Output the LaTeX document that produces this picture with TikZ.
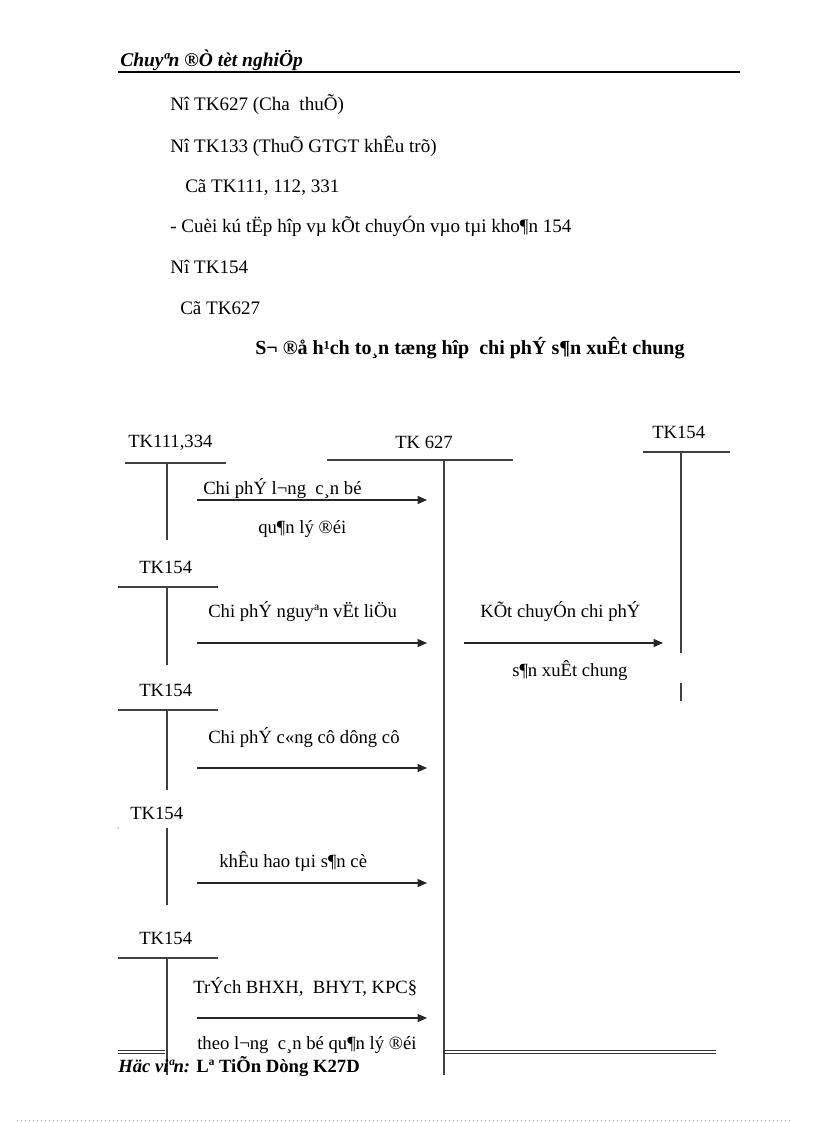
\documentclass[tikz,border=0pt]{standalone}
\usepackage{fontspec}
\setmainfont{Liberation Serif}
\usetikzlibrary{arrows.meta}
\begin{document}
\begin{tikzpicture}[x=0.75pt,y=-0.75pt,
  txt/.style={anchor=base west,inner sep=0pt,font=\fontsize{14}{16}\selectfont},
  body/.style={anchor=base west,inner sep=0pt,font=\fontsize{14.3}{16}\selectfont},
  ttl/.style={anchor=base west,inner sep=0pt,font=\fontsize{14}{16}\selectfont\bfseries},
  tline/.style={line width=1.1pt,draw=black!75},
  flow/.style={line width=0.8pt,draw=black!85,-{Triangle[length=7pt,width=6pt]}},
  dbl/.style={line width=0.6pt,draw=black!80}]
\useasboundingbox (0,0) rectangle (816,1123);

% header
\node[ttl,font=\fontsize{14.6}{16}\selectfont\bfseries\itshape] (hdr) at (120,67) {Chuyªn ®Ò tèt nghiÖp};
\coordinate (hl) at (118,72); \coordinate (hr) at (740,72);
\draw[line width=1.5pt] (hl) -- (hr);

% body text
\node[body] (b1) at (170,111) {Nî TK627 (Cha\ \ thuÕ)};
\node[body] (b2) at (170,153) {Nî TK133 (ThuÕ GTGT khÊu trõ)};
\node[body] (b3) at (185,193) {Cã TK111, 112, 331};
\node[body] (b4) at (170,233) {- Cuèi kú tËp hîp vµ kÕt chuyÓn vµo tµi kho¶n 154};
\node[body] (b5) at (170,273) {Nî TK154};
\node[body] (b6) at (180,314) {Cã TK627};
\node[ttl,font=\fontsize{15}{17}\selectfont\bfseries] (title) at (255,354) {S¬ ®å h¹ch to¸n tæng hîp\ \ chi phÝ s¶n xuÊt chung};

% T-account TK111,334
\node[txt] (a1) at (128,447) {TK111,334};
\coordinate (a1l) at (125,463); \coordinate (a1r) at (226,463);
\coordinate (a1t) at (167,463); \coordinate (a1b) at (167,540);
\draw[tline] (a1l) -- (a1r); \draw[tline] (a1t) -- (a1b);

% T-account TK 627
\node[txt] (c) at (395,448) {TK 627};
\coordinate (cl) at (327,460); \coordinate (cr) at (513,460);
\coordinate (ct) at (444,460); \coordinate (cb) at (444,1075);
\draw[tline] (cl) -- (cr); \draw[tline] (ct) -- (cb);

% T-account TK154 right
\node[txt] (d) at (652,438) {TK154};
\coordinate (dl) at (643,452); \coordinate (dr) at (730,452);
\coordinate (dt) at (681,452); \coordinate (db) at (681,653);
\coordinate (dt2) at (681,683); \coordinate (db2) at (681,701);
\draw[tline] (dl) -- (dr); \draw[tline] (dt) -- (db); \draw[tline] (dt2) -- (db2);

% TK154 #2
\node[txt] (a2) at (139,573) {TK154};
\coordinate (a2l) at (118,587); \coordinate (a2r) at (218,587);
\coordinate (a2t) at (167,587); \coordinate (a2b) at (167,665);
\draw[tline] (a2l) -- (a2r); \draw[tline] (a2t) -- (a2b);

% TK154 #3
\node[txt] (a3) at (139,696) {TK154};
\coordinate (a3l) at (118,710); \coordinate (a3r) at (218,710);
\coordinate (a3t) at (167,710); \coordinate (a3b) at (167,790);
\draw[tline] (a3l) -- (a3r); \draw[tline] (a3t) -- (a3b);

% TK154 #4
\node[txt] (a4) at (130,819) {TK154};
\coordinate (a4t) at (167,828); \coordinate (a4b) at (167,905);
\draw[tline] (a4t) -- (a4b);
\fill[black!70] (118,828) circle (0.7);

% TK154 #5
\node[txt] (a5) at (139,944) {TK154};
\coordinate (a5l) at (118,958); \coordinate (a5r) at (218,958);
\coordinate (a5t) at (167,958); \coordinate (a5b) at (167,1075);
\draw[tline] (a5l) -- (a5r); \draw[tline] (a5t) -- (a5b);

% arrows
\coordinate (f1s) at (197,500); \coordinate (f1e) at (427,500);
\draw[flow] (f1s) -- (f1e);
\node[txt] (l1a) at (203,494) {Chi phÝ l¬ng\ \ c¸n bé};
\node[txt] (l1b) at (258,533) {qu¶n lý ®éi};

\coordinate (f2s) at (197,643); \coordinate (f2e) at (427,643);
\draw[flow] (f2s) -- (f2e);
\node[txt] (l2) at (208,617) {Chi phÝ nguyªn vËt liÖu};

\coordinate (f3s) at (464,643); \coordinate (f3e) at (663,643);
\draw[flow] (f3s) -- (f3e);
\node[txt] (l3a) at (480,617) {KÕt chuyÓn chi phÝ};
\node[txt] (l3b) at (512,676) {s¶n xuÊt chung};

\coordinate (f4s) at (197,768); \coordinate (f4e) at (427,768);
\draw[flow] (f4s) -- (f4e);
\node[txt] (l4) at (208,743) {Chi phÝ c«ng cô dông cô};

\coordinate (f5s) at (197,883); \coordinate (f5e) at (427,883);
\draw[flow] (f5s) -- (f5e);
\node[txt] (l5) at (219,867) {khÊu hao tµi s¶n cè};

\coordinate (f6s) at (197,1018); \coordinate (f6e) at (427,1018);
\draw[flow] (f6s) -- (f6e);
\node[txt] (l6a) at (193,993) {TrÝch BHXH,\ \ BHYT, KPC§};
\node[txt] (l6b) at (197,1049) {theo l¬ng\ \ c¸n bé qu¶n lý ®éi};

% footer
\coordinate (fl1) at (118,1050); \coordinate (fl2) at (165,1050);
\coordinate (fl3) at (118,1053); \coordinate (fl4) at (165,1053);
\coordinate (fr1) at (444,1050); \coordinate (fr2) at (716,1050);
\coordinate (fr3) at (444,1053); \coordinate (fr4) at (716,1053);
\draw[dbl] (fl1) -- (fl2); \draw[dbl] (fl3) -- (fl4);
\draw[dbl] (fr1) -- (fr2); \draw[dbl] (fr3) -- (fr4);
\node[ttl] (ftr) at (118,1072) {\textit{Häc viªn:} Lª TiÕn Dòng K27D};

\coordinate (dl1) at (17,1120); \coordinate (dl2) at (793,1120);
\draw[black!35,line width=0.4pt,dash pattern=on 0.6pt off 2.4pt] (dl1) -- (dl2);
\end{tikzpicture}
\end{document}
